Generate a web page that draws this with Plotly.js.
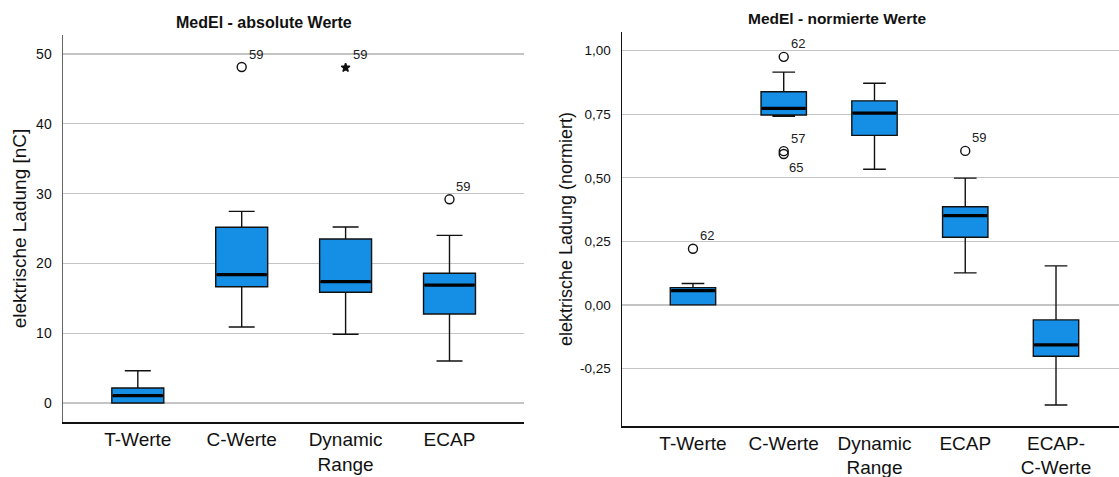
<!DOCTYPE html>
<html>
<head>
<meta charset="utf-8">
<script src="https://cdn.plot.ly/plotly-3.0.1.min.js"></script>
<style>
  html, body { margin: 0; padding: 0; background: #fff; }
  #chart { width: 1119px; height: 477px; }
</style>
</head>
<body>
<div id="chart"></div>
<script>
// ---------- Data: absolute values (nC) ----------
const catsAbs = ['T-Werte', 'C-Werte', 'Dynamic<br>Range', 'ECAP'];
const absLower  = [0, 10.89, 9.84, 6.02];
const absQ1     = [0, 16.66, 15.86, 12.75];
const absMedian = [1.05, 18.38, 17.38, 16.9];
const absQ3     = [2.15, 25.17, 23.5, 18.58];
const absUpper  = [4.63, 27.46, 25.21, 24.02];
// outliers (circle) and extreme values (star)
const absOutCats   = ['C-Werte', 'ECAP'];
const absOutVals   = [48.13, 29.18];
const absOutLabels = ['59', '59'];
const absExtCats   = ['Dynamic<br>Range'];
const absExtVals   = [48.04];
const absExtLabels = ['59'];

// ---------- Data: normalised values ----------
const catsNorm = ['T-Werte', 'C-Werte', 'Dynamic<br>Range', 'ECAP', 'ECAP-<br>C-Werte'];
const normLower  = [0, 0.742, 0.534, 0.126, -0.394];
const normQ1     = [0, 0.747, 0.667, 0.266, -0.202];
const normMedian = [0.056, 0.773, 0.755, 0.351, -0.1575];
const normQ3     = [0.068, 0.839, 0.803, 0.386, -0.059];
const normUpper  = [0.084, 0.916, 0.872, 0.499, 0.1535];
const normOutCats   = ['T-Werte', 'C-Werte', 'C-Werte', 'C-Werte', 'ECAP'];
const normOutVals   = [0.221, 0.976, 0.605, 0.594, 0.606];
const normOutLabels = ['62', '62', '57', '65', '59'];

const absTickVals = [0, 10, 20, 30, 40, 50];
const normTickVals = [-0.25, 0, 0.25, 0.5, 0.75, 1.0];
const normTickText = ['-0,25', '0,00', '0,25', '0,50', '0,75', '1,00'];

// ---------- Styling ----------
const FONT = 'Liberation Sans, Arial, Helvetica, sans-serif';
const BOX_FILL = '#158fe6';
const BOX_W = 0.5;

function boxTrace(cats, lo, q1, med, q3, hi, xa, ya) {
  return {
    type: 'box', x: cats, q1: q1, median: med, q3: q3,
    lowerfence: lo, upperfence: hi,
    width: BOX_W, whiskerwidth: 0.5, boxpoints: false,
    fillcolor: BOX_FILL, line: { color: '#111', width: 1.4 },
    xaxis: xa, yaxis: ya, hoverinfo: 'skip', showlegend: false
  };
}
function outTrace(cats, vals, symbol, size, xa, ya) {
  return {
    type: 'scatter', mode: 'markers', x: cats, y: vals,
    marker: { symbol: symbol, size: size, color: '#111', line: { color: '#111', width: 1.4 } },
    xaxis: xa, yaxis: ya, hoverinfo: 'skip', showlegend: false, cliponaxis: false
  };
}

const traces = [
  boxTrace(catsAbs, absLower, absQ1, absMedian, absQ3, absUpper, 'x', 'y'),
  outTrace(absOutCats, absOutVals, 'circle-open', 9, 'x', 'y'),
  outTrace(absExtCats, absExtVals, 'star', 6.5, 'x', 'y'),
  boxTrace(catsNorm, normLower, normQ1, normMedian, normQ3, normUpper, 'x2', 'y2'),
  outTrace(normOutCats, normOutVals, 'circle-open', 9, 'x2', 'y2')
];

// thick median lines
const shapes = [];
function addMedians(cats, med, xr, yr) {
  med.forEach((m, i) => {
    shapes.push({ type: 'line', xref: xr, yref: yr, x0: i - BOX_W / 2 + 0.01, x1: i + BOX_W / 2 - 0.01,
      y0: m, y1: m, line: { color: '#000', width: 3.2 } });
  });
}
addMedians(catsAbs, absMedian, 'x', 'y');
addMedians(catsNorm, normMedian, 'x2', 'y2');

// outlier labels
const annotations = [];
function addLabels(cats, vals, labels, xr, yr, tol) {
  vals.forEach((v, i) => {
    const below = vals.some((w, j) => j !== i && cats[j] === cats[i] && w > v && w - v < tol);
    annotations.push({ xref: xr, yref: yr, x: cats[i], y: v, text: labels[i], showarrow: false,
      xshift: below ? 12 : 14, yshift: below ? -14 : 13,
      font: { family: FONT, size: 13, color: '#222' } });
  });
}
addLabels(absOutCats, absOutVals, absOutLabels, 'x', 'y', 2);
addLabels(absExtCats, absExtVals, absExtLabels, 'x', 'y', 2);
addLabels(normOutCats, normOutVals, normOutLabels, 'x2', 'y2', 0.05);

// chart titles
annotations.push({ xref: 'paper', yref: 'paper', x: 263.5 / 1119, y: 1 - 22.5 / 477, xanchor: 'center', yanchor: 'middle',
  text: '<b>MedEl - absolute Werte</b>', showarrow: false, font: { family: FONT, size: 16, color: '#111' } });
annotations.push({ xref: 'paper', yref: 'paper', x: 836.5 / 1119, y: 1 - 18.7 / 477, xanchor: 'center', yanchor: 'middle',
  text: '<b>MedEl - normierte Werte</b>', showarrow: false, font: { family: FONT, size: 15.5, color: '#111' } });

const gridCol = '#c4c4c4';
const layout = {
  width: 1119, height: 477,
  margin: { l: 0, r: 0, t: 0, b: 0 },
  paper_bgcolor: '#fff', plot_bgcolor: '#fff',
  font: { family: FONT, color: '#111' },
  showlegend: false,
  xaxis: {
    domain: [63 / 1119, 524.3 / 1119], anchor: 'y', type: 'category',
    range: [-0.72, 3.72], showgrid: false, zeroline: false,
    showline: true, linecolor: '#111', linewidth: 1.5, ticks: '',
    ticklabelstandoff: 0,
    tickfont: { family: FONT, size: 19, color: '#111' }, fixedrange: true
  },
  yaxis: {
    domain: [1 - 422 / 477, 1 - 35 / 477], anchor: 'x',
    range: [-2.72, 52.72], tickvals: absTickVals,
    showgrid: true, gridcolor: gridCol, gridwidth: 1.3, zeroline: false,
    showline: true, linecolor: '#666', linewidth: 1.5, ticks: '',
    ticklabelstandoff: 7,
    tickfont: { family: FONT, size: 14, color: '#111' },
    title: { text: 'elektrische Ladung [nC]', font: { family: FONT, size: 19, color: '#111' }, standoff: 4 },
    fixedrange: true
  },
  xaxis2: {
    domain: [622 / 1119, 1], anchor: 'y2', type: 'category',
    range: [-0.782, 4.694], showgrid: false, zeroline: false,
    showline: true, linecolor: '#111', linewidth: 1.5, ticks: '',
    ticklabelstandoff: -1,
    tickfont: { family: FONT, size: 19, color: '#111' }, fixedrange: true
  },
  yaxis2: {
    domain: [1 - 426.3 / 477, 1 - 31.7 / 477], anchor: 'x2',
    range: [-0.4776, 1.075], tickvals: normTickVals, ticktext: normTickText,
    showgrid: true, gridcolor: gridCol, gridwidth: 1.3, zeroline: false,
    showline: true, linecolor: '#111', linewidth: 1.5, ticks: '',
    ticklabelstandoff: 7,
    tickfont: { family: FONT, size: 13.5, color: '#111' },
    title: { text: 'elektrische Ladung (normiert)', font: { family: FONT, size: 18, color: '#111' }, standoff: 2 },
    fixedrange: true
  },
  shapes: shapes,
  annotations: annotations
};

Plotly.newPlot('chart', traces, layout, { displayModeBar: false, staticPlot: true });
</script>
</body>
</html>
